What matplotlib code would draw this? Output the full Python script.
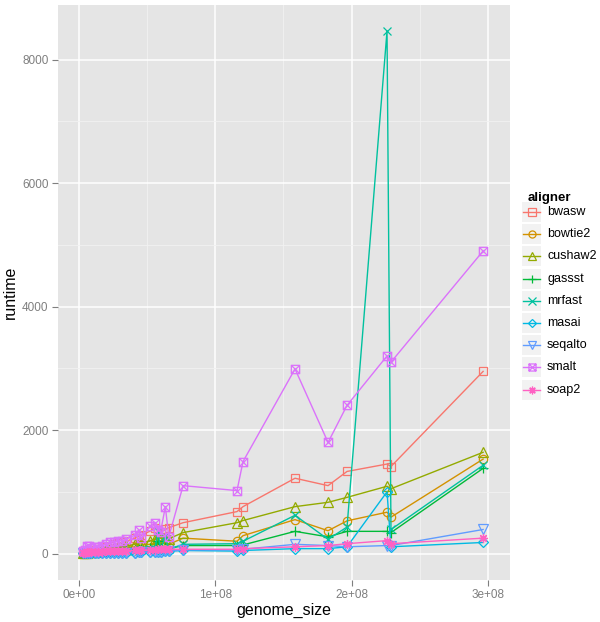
import numpy as np
import matplotlib
matplotlib.use("Agg")
import matplotlib.pyplot as plt
from matplotlib.path import Path
from matplotlib.patches import Rectangle
from matplotlib.lines import Line2D

# genome sizes (bp) shared by all aligners
genome_size = [3.0e6, 4.6e6, 6.0e6, 7.5e6, 9.0e6, 1.2e7, 1.4e7, 1.7e7, 2.0e7, 2.3e7,
               2.6e7, 2.9e7, 3.2e7, 3.5e7, 4.1e7, 4.4e7, 4.6e7, 5.2e7, 5.6e7, 5.8e7,
               6.0e7, 6.35e7, 6.6e7, 7.65e7, 1.16e8, 1.204e8, 1.585e8, 1.827e8,
               1.966e8, 2.259e8, 2.288e8, 2.963e8]

aligners = ["bwasw", "bowtie2", "cushaw2", "gassst", "mrfast", "masai", "seqalto", "smalt", "soap2"]

bwasw = [10, 20, 30, 40, 50, 60, 70, 90, 110, 130, 150, 170, 180, 200, 250, 280,
         300, 360, 420, 380, 350, 390, 420, 500, 680, 760, 1220, 1100, 1330, 1450, 1410, 2950]
bowtie2 = [5, 8, 10, 15, 20, 25, 30, 35, 45, 55, 60, 70, 80, 90, 110, 130,
           140, 150, 170, 200, 160, 180, 150, 250, 200, 290, 550, 370, 530, 670, 590, 1530]
cushaw2 = [5, 10, 15, 20, 25, 30, 40, 50, 60, 70, 80, 90, 100, 120, 150, 170,
           180, 200, 230, 280, 250, 260, 240, 340, 500, 535, 760, 830, 910, 1090, 1050, 1640]
gassst = [3, 5, 8, 10, 12, 15, 18, 20, 25, 30, 35, 40, 45, 50, 60, 70,
          80, 90, 100, 200, 90, 100, 80, 130, 130, 140, 360, 270, 360, 360, 340, 1380]
mrfast = [2, 3, 5, 6, 8, 10, 12, 14, 16, 18, 20, 25, 30, 35, 40, 50,
          60, 70, 80, 360, 60, 280, 70, 150, 160, 200, 620, 230, 430, 8460, 390, 1430]
masai = [2, 3, 4, 5, 6, 7, 8, 9, 10, 11, 12, 13, 14, 15, 17, 20,
         22, 25, 28, 30, 32, 35, 38, 50, 40, 50, 80, 80, 110, 1000, 110, 180]
seqalto = [2, 3, 4, 5, 6, 7, 8, 9, 10, 11, 12, 13, 14, 15, 17, 20,
           22, 25, 28, 30, 32, 35, 38, 60, 60, 70, 150, 130, 110, 130, 130, 390]
smalt = [40, 60, 130, 120, 90, 100, 110, 130, 160, 180, 190, 200, 210, 230, 300, 380,
         250, 440, 500, 380, 350, 760, 270, 1100, 1020, 1490, 2990, 1800, 2400, 3200, 3100, 4900]
soap2 = [10, 15, 20, 20, 25, 25, 30, 30, 35, 35, 40, 40, 45, 45, 50, 55,
         60, 60, 65, 70, 70, 75, 70, 70, 70, 80, 110, 130, 160, 210, 160, 250]

runtimes = [bwasw, bowtie2, cushaw2, gassst, mrfast, masai, seqalto, smalt, soap2]

colors = ["#F8766D", "#D39200", "#93AA00", "#00BA38", "#00C19F",
          "#00B9E3", "#619CFF", "#DB72FB", "#FF61C3"]

# square with cross (ggplot shape 7)
sqx = Path([(-1, -1), (1, -1), (1, 1), (-1, 1), (-1, -1), (-1, -1), (1, 1), (-1, 1), (1, -1)],
           [Path.MOVETO, Path.LINETO, Path.LINETO, Path.LINETO, Path.CLOSEPOLY,
            Path.MOVETO, Path.LINETO, Path.MOVETO, Path.LINETO])
markers = ["s", "o", "^", "+", "x", "D", "v", sqx, (8, 2, 0)]
msizes = [6, 6, 6.5, 7, 6, 5, 6.5, 6, 6.5]

plt.rcParams['font.family'] = ['Liberation Sans', 'DejaVu Sans']

fig = plt.figure(figsize=(6, 6.22), dpi=100)
ax = fig.add_axes([0.097, 0.068, 0.753, 0.924])
ax.set_facecolor("#E5E5E5")
for s in ax.spines.values():
    s.set_visible(False)

for name, y, c, m, ms in zip(aligners, runtimes, colors, markers, msizes):
    ax.plot(genome_size, y, color=c, lw=1.0, marker=m, ms=ms,
            mfc="none", mec=c, mew=0.9, zorder=3)

ymin, ymax = 0, max(max(r) for r in runtimes)
ax.set_xlim(-1.5e7, 3.16e8)
ax.set_ylim(ymin - 0.05 * (ymax - ymin), ymax + 0.05 * (ymax - ymin))

ax.set_xticks([0, 1e8, 2e8, 3e8])
ax.set_xticklabels(["0e+00", "1e+08", "2e+08", "3e+08"])
ax.set_xticks([0.5e8, 1.5e8, 2.5e8], minor=True)
ax.set_yticks([0, 2000, 4000, 6000, 8000])
ax.set_yticks([1000, 3000, 5000, 7000], minor=True)
ax.grid(True, which="major", color="white", lw=1.1, zorder=0)
ax.grid(True, which="minor", color="#F2F2F2", lw=0.6, zorder=0)
ax.set_axisbelow(True)
ax.tick_params(which="major", color="#7F7F7F", labelcolor="#7F7F7F", labelsize=8.5,
               length=4, width=0.8, pad=3)
ax.tick_params(which="minor", length=0)
ax.set_xlabel("genome_size", fontsize=11.5, labelpad=1)
ax.set_ylabel("runtime", fontsize=11.5, labelpad=3)

# legend drawn by hand, ggplot style
fig.text(528 / 600, 1 - 198 / 622, "aligner", fontsize=9.5, fontweight="bold",
         va="center", ha="left")
for i, (name, c, m, ms) in enumerate(zip(aligners, colors, markers, msizes)):
    yc = 1 - (212 + i * 22.2) / 622
    fig.patches.append(Rectangle((522 / 600, yc - 10 / 622), 19 / 600, 20 / 622,
                                 transform=fig.transFigure, facecolor="#F2F2F2",
                                 edgecolor="none"))
    fig.lines.append(Line2D([523 / 600, 540 / 600], [yc, yc], transform=fig.transFigure,
                            color=c, lw=1.0))
    fig.lines.append(Line2D([531.5 / 600], [yc], transform=fig.transFigure, color=c,
                            marker=m, ms=ms * 0.85, mfc="none", mec=c, mew=0.9))
    fig.text(547 / 600, yc, name, fontsize=9, va="center", ha="left")

fig.savefig("out.png", dpi=100)
